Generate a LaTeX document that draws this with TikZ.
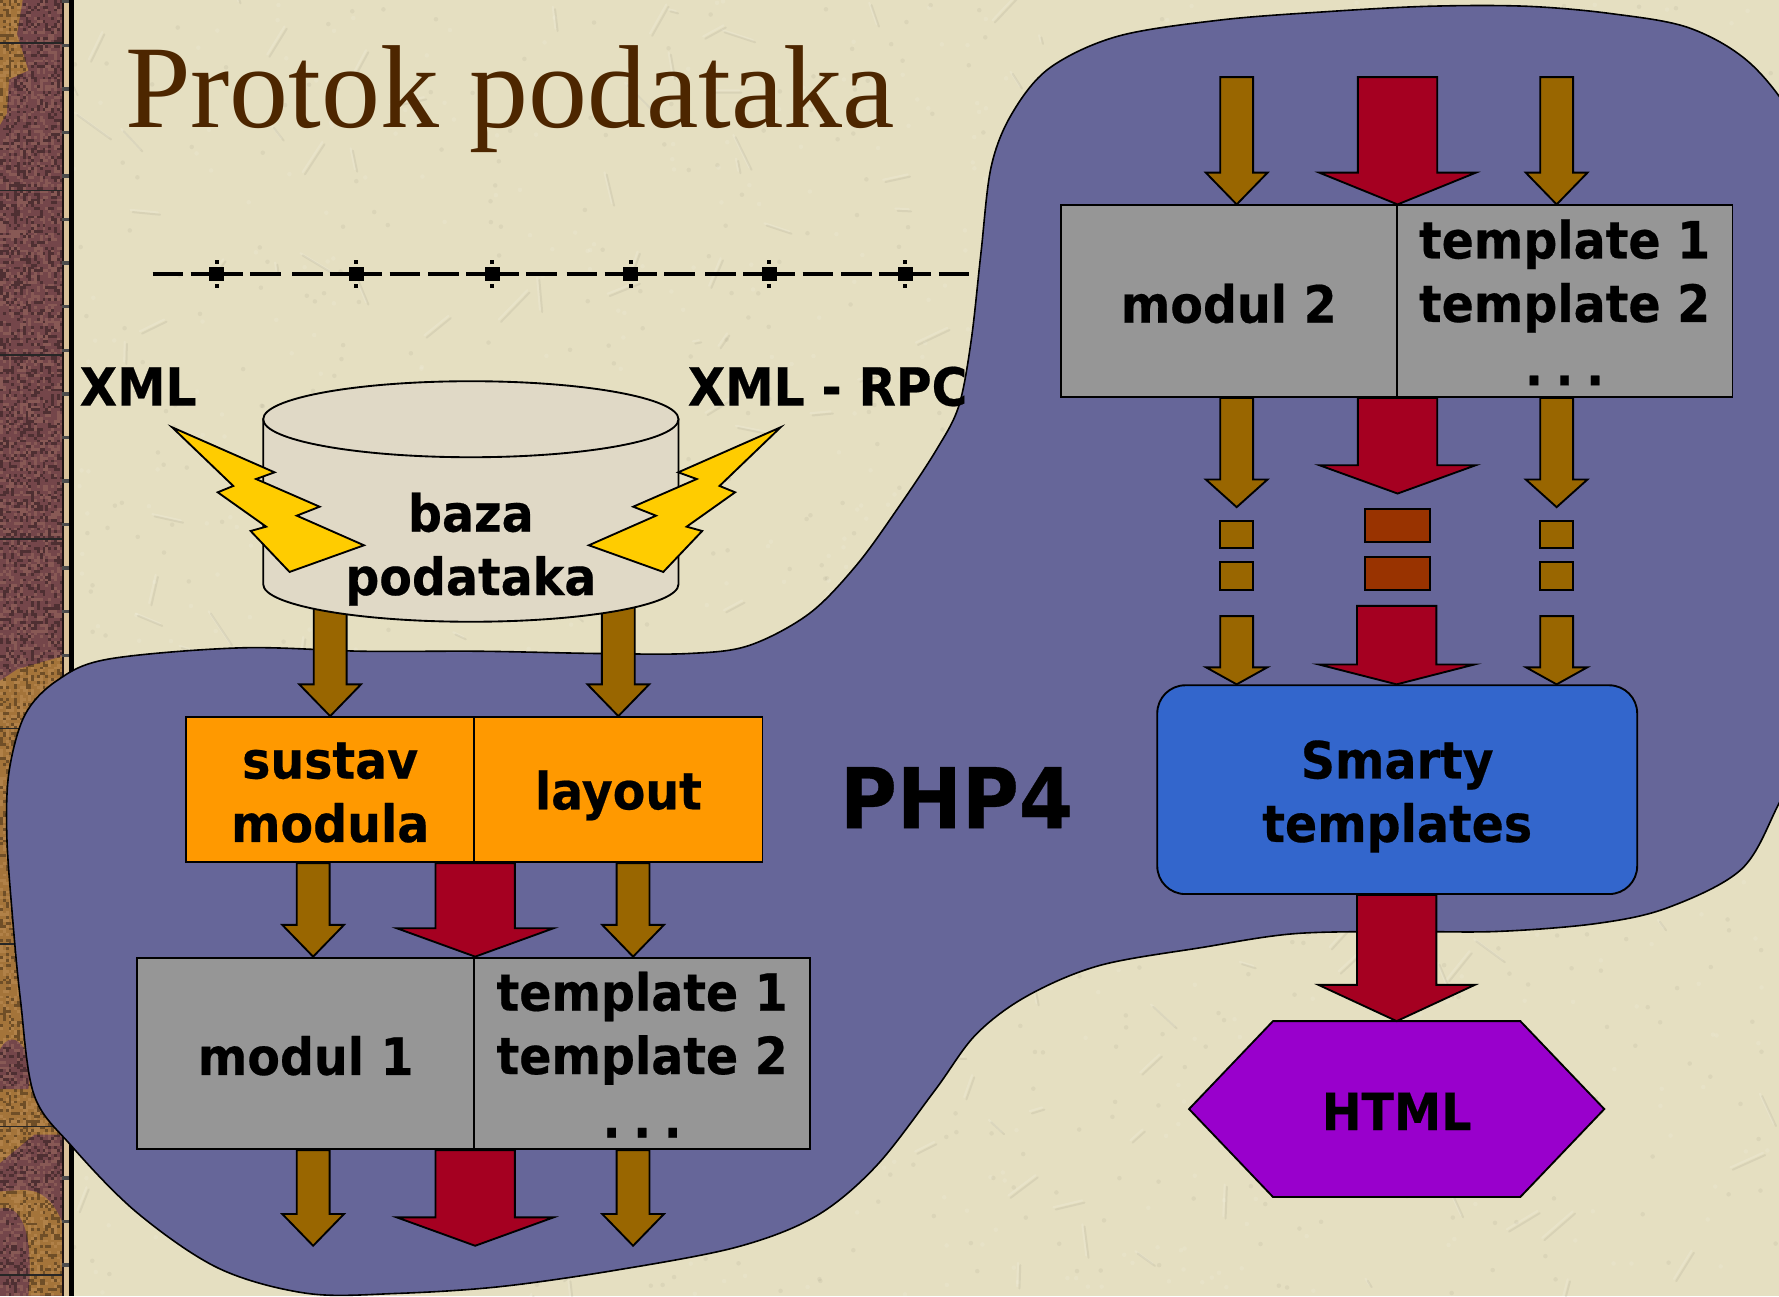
\documentclass[tikz,border=0pt]{standalone}
\usepackage{fontspec}
\usetikzlibrary{calc}
\newfontfamily\vb[FakeStretch=0.925,BoldFeatures={FakeBold=0.4}]{DejaVu Sans}
\newfontfamily\ttl{Liberation Serif}
\definecolor{paper}{HTML}{E5DFC1}
\definecolor{blobc}{HTML}{666699}
\definecolor{brownc}{HTML}{996600}
\definecolor{redc}{HTML}{A50021}
\definecolor{rustc}{HTML}{993300}
\definecolor{greyc}{HTML}{969696}
\definecolor{orangec}{HTML}{FF9900}
\definecolor{bluec}{HTML}{3366CC}
\definecolor{purplec}{HTML}{9900CC}
\definecolor{cylc}{HTML}{E0D9C6}
\definecolor{yellowc}{HTML}{FFCC00}
\definecolor{titlec}{HTML}{4D2600}
\definecolor{maroonc}{HTML}{74464A}
\definecolor{ochrec}{HTML}{A4743A}
\tikzset{
  shape line/.style={draw=black,line width=1.4pt,line join=miter},
  lab/.style={font=\vb\bfseries\fontsize{38.5}{47.6}\selectfont,text=black,align=center,inner sep=0pt},
  boxn/.style={lab,shape line,rectangle,minimum width=#1*0.85092pt},
  brownarrow/.style={shape line,fill=brownc},
  redarrow/.style={shape line,fill=redc},
  bolt/.style={shape line,fill=yellowc},
  dashseg/.style={line width=3.3pt,black},
}
% top strut, to place the text within its box
\newcommand\tstrut[1]{\rule{0pt}{#1pt}}
\newcommand\threedots{.\kern-3pt\ .\kern-3pt\ .}
% style, start, end, shaft half-width, head half-width, head length
\newcommand\barrow[6]{\draw[#1] ($(#2)+(-#4,0)$) -- ($(#3)+(-#4,-#6)$) -- ($(#3)+(-#5,-#6)$) -- (#3) -- ($(#3)+(#5,-#6)$) -- ($(#3)+(#4,-#6)$) -- ($(#2)+(#4,0)$) -- cycle;}
\begin{document}
\begin{tikzpicture}[x=0.85092pt,y=-0.85092pt]
\useasboundingbox (0,0) rectangle (1568,1142.3);
% paper
\fill[paper] (0,0) rectangle (1568,1142.3);
\pgfmathsetseed{7}
\foreach \i in {1,...,1600}{
  \pgfmathsetmacro\xa{65+rnd*1503}\pgfmathsetmacro\ya{rnd*1142}
  \pgfmathsetmacro\cc{rnd>.5?1:0}
  \ifdim\cc pt>0.5pt
    \fill[white,fill opacity=.10] (\xa,\ya) circle[radius=2];
  \else
    \fill[black!60!paper,fill opacity=.07] (\xa,\ya) circle[radius=2];
  \fi
}
\foreach \i in {1,...,260}{
  \pgfmathsetmacro\xa{65+rnd*1503}\pgfmathsetmacro\ya{rnd*1142}
  \pgfmathsetmacro\dx{(rnd-.5)*60}\pgfmathsetmacro\dy{(rnd-.5)*60}
  \draw[white,opacity=.14,line width=1.5pt,line cap=round] (\xa,\ya) -- +(\dx,\dy);
  \draw[black!60!paper,opacity=.09,line width=1.5pt,line cap=round] (\xa+2,\ya+2) -- +(\dx,\dy);
}
% left strip
\fill[maroonc] (0,0) rectangle (56,1142.3);
\fill[ochrec] (0,0) -- (20,0) -- (15,30) -- (25,62) -- (8,70) -- (6,100) -- (0,110) -- cycle;
\fill[ochrec] (0,600) -- (15,590) -- (56,578) -- (56,1000) -- (30,1000) -- (0,1025) -- cycle;
\fill[maroonc] (0,925) .. controls (10,905) and (30,920) .. (25,960) -- (0,960) -- cycle;
\fill[ochrec] (0,1065) .. controls (20,1060) and (30,1090) .. (25,1142) -- (56,1142) -- (56,1080) .. controls (40,1040) and (20,1050) .. (0,1050) -- cycle;
\foreach \px in {0,2.5,...,54}{
  \foreach \py in {0,2.5,...,1140}{
    \pgfmathrandominteger\r{0}{3}
    \ifcase\r\relax
      \fill[black,fill opacity=.32] (\px,\py) rectangle +(2.5,2.5);
    \or
      \fill[white!60!orange,fill opacity=.15] (\px,\py) rectangle +(2.5,2.5);
    \else\fi
  }
}
\foreach \ly in {38,168,313,475,642,832,993,1124}
  \draw[black!85,line width=1.2pt] (0,\ly) -- (55,\ly);
\fill[black!75!maroonc] (55,0) rectangle (56.5,1142.3);
\fill[paper!70!brown] (56.5,0) rectangle (61,1142.3);
\foreach \ly in {0,38.4,...,1142}
  \fill[black!70] (55,\ly) rectangle (61,\ly+3);
\fill[black] (61,0) rectangle (65,1142.3);
% blob
\draw[fill=blobc,draw=black,line width=1.2pt] plot[smooth cycle,tension=.55] coordinates {
  (864.6,223) (873.6,147) (892,100) (925,60) (985,32) (1076,17.6) (1169,10.3) (1260,5.5) (1345,5.5) (1420,12) (1490,25) (1545,58) (1590,120) (1630,220)
  (1640,400) (1625,560) (1600,640) (1568,708) (1535,766) (1470,800) (1407,814) (1319,821) (1230,821) (1140,823) (1060,835) (969,851) (905,878) (860,912)
  (824,961) (772,1028) (719,1072) (650,1099) (546,1119) (441,1134) (350,1140) (271,1140) (193,1118) (121,1069) (63,1010) (30,965) (18,881) (11,808) (6,736) (8,680) (22,630) (50,600) (95,581)
  (212,571) (320,574) (423,574) (528,576) (607,576) (660,569) (713,541) (755,498) (792,447) (825,397) (845,358) (856,300)};
% title
\node[anchor=base west,inner sep=0pt,text=titlec,font=\ttl\fontsize{88.5}{90}\selectfont] (title) at (110,112) {Protok podataka};
% dash-dot line
\foreach \m in {191,314,434,556,678,798}{
  \draw[dashseg] (\m-23,241.5) -- (\m+23,241.5);
  \draw[dashseg] (\m-56.5,241.5) -- (\m-29.5,241.5);
  \draw[dashseg] (\m+29.5,241.5) -- (\m+56.5,241.5);
  \fill (\m-6.5,235) rectangle (\m+6.5,248);
  \fill (\m-1.75,229.5) rectangle (\m+1.75,232.5);
  \fill (\m-1.75,250.5) rectangle (\m+1.75,253.5);
}
% left column boxes
\node[boxn=254,fill=orangec,minimum height=128*0.85092pt] (sm) at (291,696) {\tstrut{31.4}sustav\\modula};
\node[boxn=254,fill=orangec,minimum height=128*0.85092pt] (lay) at (545,696) {\tstrut{37.8}layout};
\node[boxn=297,fill=greyc,minimum height=169*0.85092pt] (m1) at (269.5,928.5) {\tstrut{32.7}modul 1};
\node[boxn=296,fill=greyc,minimum height=169*0.85092pt] (t1) at (566,928.5) {\tstrut{31}template 1\\template 2\\\threedots};
% right column boxes
\node[boxn=296,fill=greyc,minimum height=169*0.85092pt] (m2) at (1083,265.5) {\tstrut{32.7}modul 2};
\node[boxn=296,fill=greyc,minimum height=169*0.85092pt] (t2) at (1379,265.5) {\tstrut{31}template 1\\template 2\\\threedots};
\node[lab,shape line,fill=bluec,rectangle,rounded corners=21pt,minimum width=423*0.85092pt,minimum height=184*0.85092pt] (smarty) at (1231.5,696) {\tstrut{38.8}Smarty\\templates};
\coordinate (hc) at (1231,979.5);
\draw[shape line,fill=purplec] (1048,977.5) -- (1122,900) -- (1340,900) -- (1414,977.5) -- (1340,1055) -- (1122,1055) -- cycle;
\node[lab] (html) at (hc) {HTML};
\coordinate (htop) at (1231,900);
% axes and free ends
\coordinate (xa) at (276,0);
\coordinate (xb) at (558,0);
\coordinate (xc) at (1090,0);
\coordinate (xd) at (1372,0);
\coordinate (xr) at (1231,0);
\coordinate (db) at (0,530);
\coordinate (oy) at (0,1098);
\coordinate (ytop) at (0,68);
% arrows left
\barrow{brownarrow}{sm.north |- db}{sm.north}{14.5}{27.2}{28}
\barrow{brownarrow}{lay.north |- db}{lay.north}{14.5}{27.2}{28}
\barrow{brownarrow}{xa |- sm.south}{xa |- m1.north}{14.5}{27.2}{28}
\barrow{redarrow}{sm.south east}{m1.north east}{35}{69}{25}
\barrow{brownarrow}{xb |- sm.south}{xb |- m1.north}{14.5}{27.2}{28}
\barrow{brownarrow}{xa |- m1.south}{xa |- oy}{14.5}{27.2}{28}
\barrow{redarrow}{m1.south east}{m1.south east |- oy}{35}{69}{25}
\barrow{brownarrow}{xb |- m1.south}{xb |- oy}{14.5}{27.2}{28}
% arrows right, top
\barrow{brownarrow}{xc |- ytop}{xc |- m2.north}{14.5}{27.2}{28}
\barrow{redarrow}{m2.north east |- ytop}{m2.north east}{35}{69}{28}
\barrow{brownarrow}{xd |- ytop}{xd |- m2.north}{14.5}{27.2}{28}
% arrows right, below
\coordinate (b1) at (0,447);
\coordinate (b2) at (0,435);
\barrow{brownarrow}{xc |- m2.south}{xc |- b1}{14.5}{27.2}{24.4}
\barrow{redarrow}{m2.south east}{m2.south east |- b2}{35}{69}{25}
\barrow{brownarrow}{xd |- m2.south}{xd |- b1}{14.5}{27.2}{24.4}
% dashes in the gap
\foreach \cx in {1090,1372}{
  \draw[shape line,fill=brownc] (\cx-14.5,459) rectangle (\cx+14.5,483);
  \draw[shape line,fill=brownc] (\cx-14.5,495) rectangle (\cx+14.5,520);
}
\draw[shape line,fill=rustc] (1203,449) rectangle (1260,478);
\draw[shape line,fill=rustc] (1203,491) rectangle (1260,520);
% arrows into Smarty
\coordinate (c1) at (0,543);
\coordinate (c2) at (0,534);
\barrow{brownarrow}{xc |- c1}{xc |- smarty.north}{14.5}{27}{15}
\barrow{redarrow}{xr |- c2}{xr |- smarty.north}{35}{68.5}{17.5}
\barrow{brownarrow}{xd |- c1}{xd |- smarty.north}{14.5}{27}{15}
\barrow{redarrow}{xr |- smarty.south}{htop}{35}{69}{32}
% database
\draw[shape line,fill=cylc] (232,369.5) -- (232,515) arc[start angle=180,end angle=360,x radius=183,y radius=-33] -- (598,369.5) -- cycle;
\draw[shape line,fill=cylc] (415,369.5) ellipse[x radius=183,y radius=33.5];
% bolts
\draw[bolt] (151.7,376.6) -- (242,416.3) -- (225.7,422.2) -- (281.7,446.6) -- (261.6,454.5) -- (320.8,480.6) -- (255.2,504.1) -- (220.9,468) -- (234.6,464.2) -- (191.9,433.9) -- (205.6,428.3) -- cycle;
\draw[bolt] (688,376.6) -- (597.8,416.3) -- (614.1,422.2) -- (558.1,446.6) -- (578.2,454.5) -- (519,480.6) -- (584.6,504.1) -- (618.9,468) -- (605.2,464.2) -- (647.9,433.9) -- (634.2,428.3) -- cycle;
\node[lab] (dbtext) at (415,484) {baza\\podataka};
\node[lab,anchor=base west,font=\vb\bfseries\fontsize{39.4}{47.6}\selectfont] (xml) at (70,357.5) {XML};
\node[lab,anchor=base west,font=\vb\bfseries\fontsize{39.4}{47.6}\selectfont] (rpc) at (606,357.5) {XML - RPC};
\node[lab,font=\vb\bfseries\fontsize{63}{70}\selectfont] (php) at (843,703) {PHP4};
\end{tikzpicture}
\end{document}
